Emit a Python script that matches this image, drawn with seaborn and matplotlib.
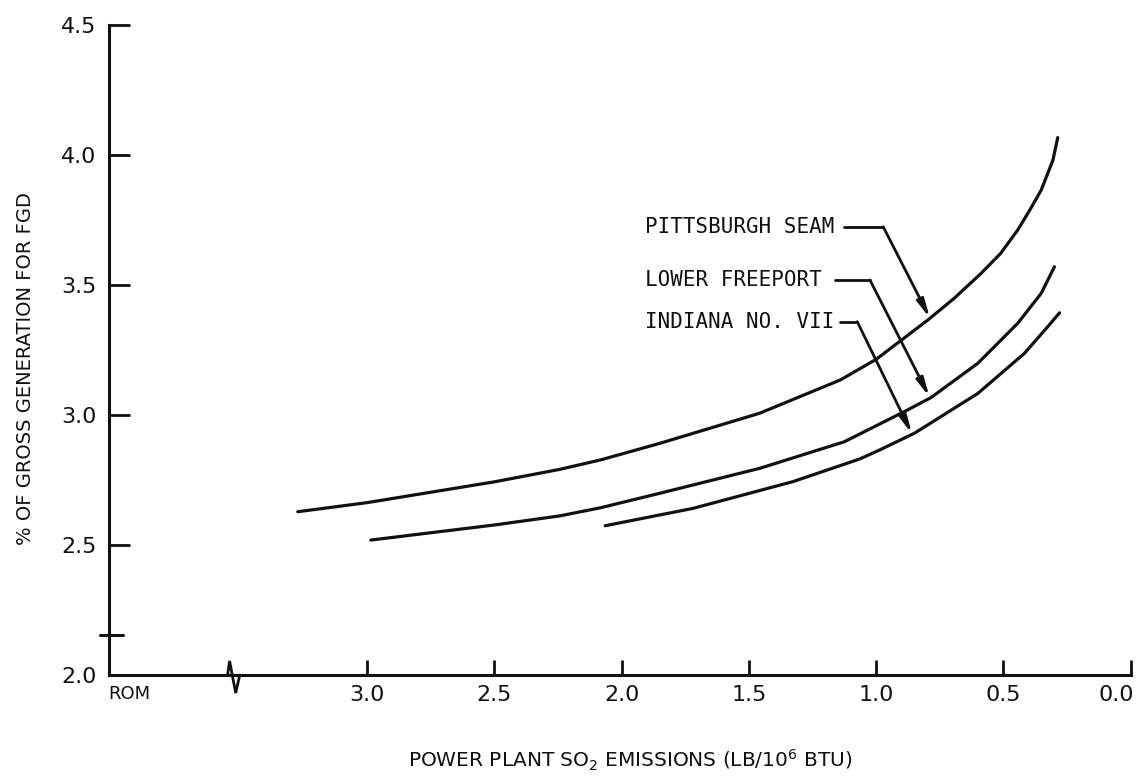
import matplotlib
matplotlib.use("Agg")
import matplotlib.pyplot as plt
import matplotlib.transforms as mtransforms
import numpy as np
import pandas as pd
import seaborn as sns

# ---------------- data ----------------
pitt_x = [3.273, 3.0, 2.5, 2.243, 2.084, 1.850, 1.457, 1.140, 1.0, 0.891,
          0.797, 0.694, 0.587, 0.510, 0.443, 0.396, 0.351, 0.305, 0.286]
pitt_y = [2.628, 2.663, 2.743, 2.791, 2.827, 2.891, 3.007, 3.135, 3.214, 3.295,
          3.365, 3.448, 3.545, 3.622, 3.712, 3.788, 3.865, 3.980, 4.067]

lowf_x = [2.986, 2.5, 2.243, 2.084, 1.850, 1.457, 1.125, 0.889, 0.784,
          0.6, 0.443, 0.351, 0.299]
lowf_y = [2.519, 2.577, 2.612, 2.643, 2.699, 2.795, 2.897, 3.013, 3.067,
          3.199, 3.353, 3.468, 3.570]

ind_x = [2.065, 1.719, 1.326, 1.064, 0.987, 0.849, 0.6, 0.417, 0.325, 0.279]
ind_y = [2.574, 2.641, 2.744, 2.831, 2.865, 2.930, 3.083, 3.237, 3.340, 3.393]

series_names = ["PITTSBURGH SEAM", "LOWER FREEPORT", "INDIANA NO. VII"]

x_ticks = [3.0, 2.5, 2.0, 1.5, 1.0, 0.5, 0.0]
x_tick_labels = ["3.0", "2.5", "2.0", "1.5", "1.0", "0.5", "0.0"]
rom_label = "ROM"
y_ticks = [2.0, 2.5, 3.0, 3.5, 4.0, 4.5]
y_tick_labels = ["2.0", "2.5", "3.0", "3.5", "4.0", "4.5"]

x_label = r"POWER PLANT SO$_2$ EMISSIONS (LB/10$^6$ BTU)"
y_label = "% OF GROSS GENERATION FOR FGD"

# ---------------- layout ----------------
W, H, DPI = 1144, 781, 100
X_LEFT, X_RIGHT = 4.015, 0.0
ROM_POS = 3.934
INK = "#111111"

# label / leader geometry (data coords): text anchor, leader start, corner, arrow tip
leaders = {
    "PITTSBURGH SEAM": dict(text=(1.909, 3.724), start=1.127, corner=0.972, tip=(0.788, 3.372)),
    "LOWER FREEPORT": dict(text=(1.909, 3.519), start=1.162, corner=1.024, tip=(0.790, 3.069)),
    "INDIANA NO. VII": dict(text=(1.909, 3.359), start=1.142, corner=1.074, tip=(0.859, 2.927)),
}

sns.set_theme(style="white")
plt.rcParams["font.family"] = ["DejaVu Sans"]

df = pd.concat([
    pd.DataFrame({"x": pitt_x, "y": pitt_y, "coal": series_names[0]}),
    pd.DataFrame({"x": lowf_x, "y": lowf_y, "coal": series_names[1]}),
    pd.DataFrame({"x": ind_x, "y": ind_y, "coal": series_names[2]}),
], ignore_index=True)

fig = plt.figure(figsize=(W / DPI, H / DPI), dpi=DPI)
fig.patch.set_facecolor("white")
ax = fig.add_axes([109 / W, 1 - 675 / H, (1130.5 - 109) / W, (675 - 25) / H])
ax.set_facecolor("white")

sns.lineplot(data=df, x="x", y="y", hue="coal", units="coal", estimator=None,
             palette={n: INK for n in series_names}, linewidth=2.3,
             legend=False, ax=ax, sort=True)

ax.set_xlim(X_LEFT, X_RIGHT)
ax.set_ylim(y_ticks[0], y_ticks[-1])

# spines
for s in ["top", "right"]:
    ax.spines[s].set_visible(False)
for s in ["left", "bottom"]:
    ax.spines[s].set_visible(True)
    ax.spines[s].set_color(INK)
    ax.spines[s].set_linewidth(2.2)

# ticks
ax.set_xticks([ROM_POS] + x_ticks)
ax.set_xticklabels([rom_label] + x_tick_labels)
ax.set_yticks(y_ticks)
ax.set_yticklabels(y_tick_labels)
ax.tick_params(axis="x", direction="in", length=11, width=2, color=INK,
               pad=7, labelsize=16, labelcolor=INK, bottom=True)
ax.tick_params(axis="y", direction="in", length=15, width=2, color=INK,
               pad=9, labelsize=16, labelcolor=INK, left=True)
ax.xaxis.get_major_ticks()[0].tick1line.set_visible(False)
xt_labels = ax.get_xticklabels()
xt_labels[0].set_fontsize(13)
# keep the last label ("0.0") inside the figure
last = xt_labels[-1]
last.set_transform(last.get_transform() +
                   mtransforms.ScaledTranslation(-14 / DPI, 0, fig.dpi_scale_trans))
ax.grid(False)

# axis labels
ax.set_xlabel(x_label, fontsize=14.5, color=INK)
ax.xaxis.set_label_coords(0.510, -0.143)
ax.xaxis.label.set_verticalalignment("baseline")
ax.set_ylabel(y_label, fontsize=14, color=INK)
ax.yaxis.set_label_coords(-0.0813, 0.472)
ax.yaxis.label.set_verticalalignment("center")

# axis break marks
ax.plot([3.549, 3.541, 3.517, 3.501], [2.0, 2.054, 1.931, 2.0],
        color=INK, lw=2, clip_on=False, solid_joinstyle="miter")
ax.plot([4.05, 3.96], [2.154, 2.154], color=INK, lw=2.2, clip_on=False)

# curve labels with leaders and arrows
for name in series_names:
    g = leaders[name]
    tx, ty = g["text"]
    ax.text(tx, ty, name, ha="left", va="center", fontsize=15,
            family="DejaVu Sans Mono", color=INK)
    ax.plot([g["start"], g["corner"]], [ty, ty], color=INK, lw=2)
    ax.annotate("", xy=g["tip"], xytext=(g["corner"], ty),
                arrowprops=dict(arrowstyle="-|>,head_length=0.9,head_width=0.18",
                                color=INK, lw=2, shrinkA=0, shrinkB=0))

fig.savefig("out.png", dpi=DPI, facecolor="white")
